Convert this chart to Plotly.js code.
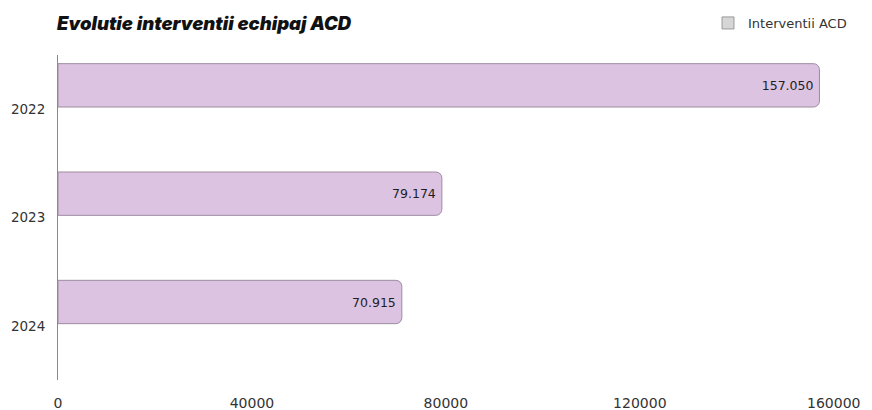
<!DOCTYPE html>
<html>
<head>
<meta charset="utf-8">
<script src="https://cdn.plot.ly/plotly-3.0.1.min.js"></script>
<style>html,body{margin:0;padding:0;background:#fff;}#chart{width:872px;height:410px;}</style>
</head>
<body>
<div id="chart"></div>
<script>
const years = ["2022", "2023", "2024"];
const interventii = [157050, 79174, 70915];
const xTicks = [0, 40000, 80000, 120000, 160000];
const seriesName = "Interventii ACD";
const titleText = "Evolutie interventii echipaj ACD";

const barTrace = {
  type: "bar",
  orientation: "h",
  y: years,
  x: interventii,
  offset: -0.42,
  width: 0.40,
  showlegend: false,
  marker: {
    color: "#dcc3e2",
    line: {color: "#9d8ba0", width: 1},
    cornerradius: 6
  },
  texttemplate: "%{x:,d}",
  textposition: "inside",
  insidetextanchor: "end",
  textfont: {family: "'DejaVu Sans', sans-serif", size: 12.5, color: "#1e1e1e"},
  hoverinfo: "x+y"
};

const legendTrace = {
  type: "bar",
  orientation: "h",
  y: [years[0]],
  x: [null],
  name: seriesName,
  showlegend: true,
  marker: {color: "#d6d6d6", line: {color: "#9a9a9a", width: 1}}
};

const layout = {
  width: 872,
  height: 410,
  paper_bgcolor: "#ffffff",
  plot_bgcolor: "#ffffff",
  separators: ",.",
  barmode: "overlay",
  margin: {l: 58, r: 14, t: 55, b: 30, autoexpand: false},
  title: {
    text: titleText,
    font: {family: "Inter, 'Liberation Sans', sans-serif", size: 18.5, weight: 900, style: "italic", color: "#111111"},
    x: 57 / 872, xanchor: "left", xref: "container",
    y: 1 - 24 / 410, yanchor: "middle", yref: "container"
  },
  font: {family: "'DejaVu Sans', sans-serif", size: 14, color: "#333333"},
  xaxis: {
    range: [0, 165000],
    tickvals: xTicks,
    tickformat: "d",
    showgrid: false,
    zeroline: false,
    showline: false,
    ticks: "",
    ticklabelstandoff: 13,
    tickfont: {size: 14, color: "#333333"},
    fixedrange: true
  },
  yaxis: {
    type: "category",
    categoryorder: "array",
    categoryarray: years,
    range: [2.5, -0.5],
    showgrid: false,
    zeroline: false,
    showline: true,
    linecolor: "#8a8a8a",
    linewidth: 1,
    ticks: "",
    ticklabelstandoff: 9,
    tickfont: {size: 13.5, color: "#333333"},
    fixedrange: true
  },
  legend: {
    xref: "container", yref: "container",
    x: 708 / 872, xanchor: "left",
    y: 1 - 23 / 410, yanchor: "middle",
    bgcolor: "rgba(0,0,0,0)",
    font: {size: 13, color: "#333333"}
  },
  showlegend: true
};

Plotly.newPlot("chart", [barTrace, legendTrace], layout, {displayModeBar: false, staticPlot: true});
</script>
</body>
</html>
